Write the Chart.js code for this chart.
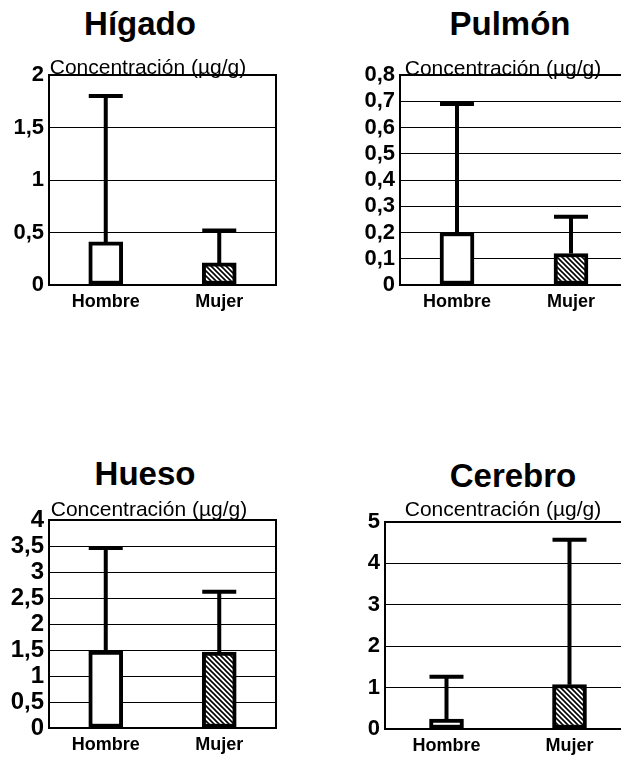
<!DOCTYPE html>
<html lang="es">
<head>
<meta charset="utf-8">
<script src="https://cdn.jsdelivr.net/npm/chart.js@4.4.1/dist/chart.umd.min.js"></script>
<style>
html, body { margin: 0; padding: 0; background: #fff; overflow: hidden; }
body { width: 621px; height: 758px; position: relative; font-family: "Liberation Sans", Arial, sans-serif; color: #000; }
canvas { position: absolute; }
.title { position: absolute; width: 300px; text-align: center; font-weight: bold; font-size: 33px; line-height: 1; }
.unit { position: absolute; width: 300px; text-align: center; font-size: 21px; line-height: 1; }
</style>
</head>
<body>
<canvas id="higado" width="290" height="260" style="left:0;top:55px"></canvas>
<canvas id="pulmon" width="300" height="260" style="left:330px;top:55px"></canvas>
<canvas id="hueso" width="290" height="258" style="left:0;top:500px"></canvas>
<canvas id="cerebro" width="305" height="256" style="left:330px;top:502px"></canvas>

<div class="title" style="left:-10px;top:7px">Hígado</div>
<div class="title" style="left:360px;top:7px">Pulmón</div>
<div class="title" style="left:-5px;top:457px">Hueso</div>
<div class="title" style="left:363px;top:459px">Cerebro</div>
<div class="unit" style="left:-2px;top:56px">Concentración (µg/g)</div>
<div class="unit" style="left:353px;top:57px">Concentración (µg/g)</div>
<div class="unit" style="left:-1px;top:498px">Concentración (µg/g)</div>
<div class="unit" style="left:353px;top:498px">Concentración (µg/g)</div>

<script>
var categories = ['Hombre', 'Mujer'];

// media (altura de la barra) y extremo superior de la barra de error
var higadoMedia = [0.41, 0.21];
var higadoMax = [1.80, 0.52];
var pulmonMedia = [0.20, 0.12];
var pulmonMax = [0.69, 0.26];
var huesoMedia = [1.48, 1.46];
var huesoMax = [3.46, 2.62];
var cerebroMedia = [0.24, 1.07];
var cerebroMax = [1.26, 4.57];

// rayado diagonal para Mujer
var hatchCanvas = document.createElement('canvas');
hatchCanvas.width = 5;
hatchCanvas.height = 5;
var hc = hatchCanvas.getContext('2d');
hc.fillStyle = '#fff';
hc.fillRect(0, 0, 5, 5);
hc.strokeStyle = '#000';
hc.lineWidth = 1.6;
hc.beginPath();
hc.moveTo(-1, -1); hc.lineTo(6, 6);
hc.moveTo(-1, 4); hc.lineTo(1, 6);
hc.moveTo(4, -1); hc.lineTo(6, 1);
hc.stroke();
var hatch = hc.createPattern(hatchCanvas, 'repeat');

var framePlugin = {
  id: 'frame',
  beforeDatasetsDraw: function (chart) {
    var a = chart.chartArea, ctx = chart.ctx;
    ctx.save();
    ctx.strokeStyle = '#000';
    ctx.lineWidth = 2;
    ctx.strokeRect(a.left, a.top, a.right - a.left, a.bottom - a.top);
    ctx.restore();
  }
};

var errorPlugin = {
  id: 'errorBars',
  afterDatasetsDraw: function (chart) {
    var ctx = chart.ctx;
    var ds = chart.data.datasets[0];
    var y = chart.scales.y;
    ctx.save();
    ctx.strokeStyle = '#000';
    ctx.lineWidth = 4;
    ctx.lineCap = 'butt';
    chart.getDatasetMeta(0).data.forEach(function (bar, i) {
      var top = y.getPixelForValue(ds.errorMax[i]);
      ctx.beginPath();
      ctx.moveTo(bar.x, bar.y);
      ctx.lineTo(bar.x, top);
      ctx.moveTo(bar.x - bar.width / 2, top);
      ctx.lineTo(bar.x + bar.width / 2, top);
      ctx.stroke();
    });
    ctx.restore();
  }
};

function makeChart(id, media, maxVal, yTop, step, yWidth, padRight, xHeight, tickSize) {
  var ctx = document.getElementById(id).getContext('2d');
  return new Chart(ctx, {
    type: 'bar',
    data: {
      labels: categories,
      datasets: [{
        data: media,
        errorMax: maxVal,
        backgroundColor: ['#fff', hatch],
        borderColor: '#000',
        borderWidth: 4,
        borderSkipped: false,
        barThickness: 34
      }]
    },
    options: {
      responsive: false,
      animation: false,
      events: [],
      layout: { padding: { top: 20, right: padRight, left: 0, bottom: 0 } },
      plugins: { legend: { display: false }, tooltip: { enabled: false } },
      scales: {
        x: {
          grid: { display: false, drawTicks: false },
          border: { display: false },
          ticks: { color: '#000', padding: 6, font: { family: 'Liberation Sans', weight: 'bold', size: 18 } },
          afterFit: function (s) { s.height = xHeight; }
        },
        y: {
          min: 0,
          max: yTop,
          grid: { color: '#000', lineWidth: 1, drawTicks: false },
          border: { display: false },
          ticks: {
            stepSize: step,
            autoSkip: false,
            padding: 5,
            color: '#000',
            font: { family: 'Liberation Sans', weight: 'bold', size: tickSize },
            callback: function (v) { return String(v).replace('.', ','); }
          },
          afterFit: function (s) { s.width = yWidth; }
        }
      }
    },
    plugins: [framePlugin, errorPlugin]
  });
}

makeChart('higado', higadoMedia, higadoMax, 2, 0.5, 49, 14, 30, 22);
makeChart('pulmon', pulmonMedia, pulmonMax, 0.8, 0.1, 70, 2, 30, 22);
makeChart('hueso', huesoMedia, huesoMax, 4, 0.5, 49, 14, 30, 24);
makeChart('cerebro', cerebroMedia, cerebroMax, 5, 1, 55, 4, 29, 22);
</script>
</body>
</html>
